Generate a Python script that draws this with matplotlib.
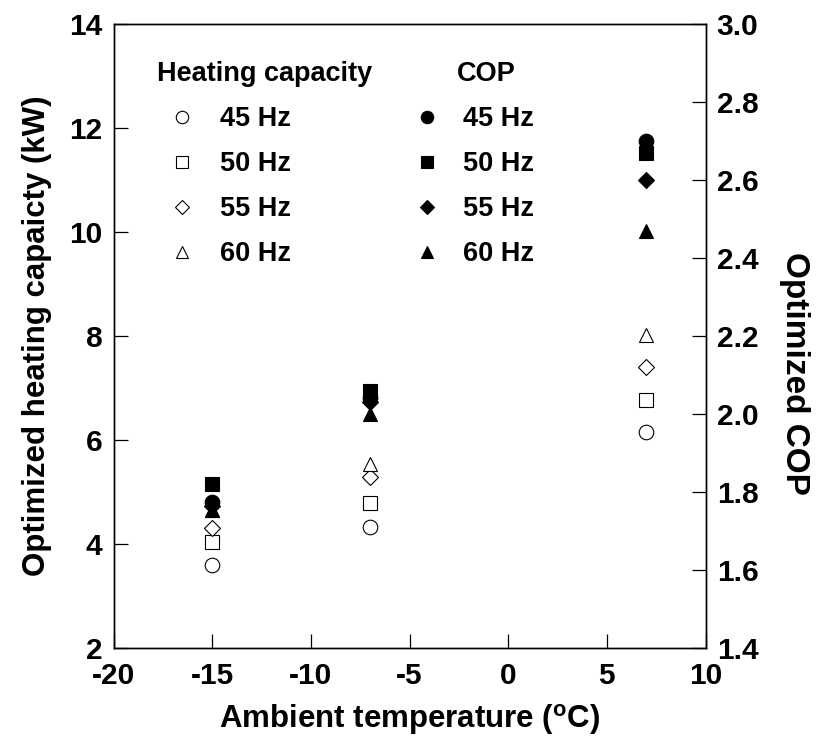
import numpy as np
import matplotlib.pyplot as plt
from matplotlib.lines import Line2D

plt.rcParams['font.family'] = ['Liberation Sans', 'DejaVu Sans']
plt.rcParams['font.weight'] = 'bold'
plt.rcParams['axes.unicode_minus'] = False
plt.rcParams['mathtext.fontset'] = 'custom'
plt.rcParams['mathtext.rm'] = 'Liberation Sans:bold'
plt.rcParams['mathtext.bf'] = 'Liberation Sans:bold'

# ambient temperatures (C)
temps = [-15, -7, 7]

# optimized heating capacity (kW), open markers
cap_45 = [3.60, 4.33, 6.15]
cap_50 = [4.04, 4.79, 6.77]
cap_55 = [4.31, 5.29, 7.40]
cap_60 = [4.65, 5.54, 8.02]

# optimized COP, filled markers
cop_45 = [1.775, 2.04, 2.70]
cop_50 = [1.82, 2.06, 2.67]
cop_55 = [1.765, 2.03, 2.60]
cop_60 = [1.755, 2.00, 2.47]

freqs = ['45 Hz', '50 Hz', '55 Hz', '60 Hz']
marks = ['o', 's', 'D', '^']
caps = [cap_45, cap_50, cap_55, cap_60]
cops = [cop_45, cop_50, cop_55, cop_60]
msz = [10.5, 9.5, 8.5, 10.5]

fig = plt.figure(figsize=(8.25, 7.39), dpi=100)
ax = fig.add_axes([0.1376, 0.1231, 0.7176, 0.8444])
ax2 = ax.twinx()

for m, s, y in zip(marks, msz, caps):
    ax.plot(temps, y, ls='none', marker=m, ms=s, mfc='white', mec='black', mew=0.8)
for m, s, y in zip(marks, msz, cops):
    ax2.plot(temps, y, ls='none', marker=m, ms=s, mfc='black', mec='black', mew=0.8)

ax.set_xlim(-20, 10)
ax.set_ylim(2, 14)
ax.set_xticks(np.arange(-20, 11, 5))
ax.set_yticks(np.arange(2, 15, 2))
ax2.set_ylim(1.4, 3.0)
ax2.set_yticks(np.arange(1.4, 3.01, 0.2))
ax2.set_yticklabels(['%.1f' % v for v in np.arange(1.4, 3.01, 0.2)])

for a in (ax, ax2):
    a.tick_params(direction='in', length=10, width=0.9, labelsize=21.5, pad=8)
    for sp in a.spines.values():
        sp.set_linewidth(1.0)
ax.tick_params(axis='x', pad=10)

ax.set_xlabel(r'Ambient temperature ($^{\mathbf{o}}$C)', fontsize=22.5, fontweight='bold', labelpad=9)
ax.set_ylabel('Optimized heating capaicty (kW)', fontsize=22.5, fontweight='bold', labelpad=12)
ax2.set_ylabel('Optimized COP', fontsize=24, fontweight='bold', rotation=270, va='center')
ax2.yaxis.set_label_coords(1.15, 0.44)

h_open = [Line2D([], [], ls='none', marker=m, ms=s * 0.85, mfc='white', mec='black', mew=0.8)
          for m, s in zip(marks, msz)]
h_fill = [Line2D([], [], ls='none', marker=m, ms=s * 0.85, mfc='black', mec='black', mew=0.8)
          for m, s in zip(marks, msz)]

leg1 = ax2.legend(h_open, freqs, title='Heating capacity', loc='upper left',
                  bbox_to_anchor=(0.033, 0.979), frameon=False, fontsize=19.5,
                  title_fontproperties={'weight': 'bold', 'size': 19.5},
                  alignment='left', labelspacing=0.7, handletextpad=0.45,
                  handlelength=1.85)
ax2.add_artist(leg1)
leg2 = ax2.legend(h_fill, freqs, title=' ', loc='upper left',
                  bbox_to_anchor=(0.466, 0.979), frameon=False, fontsize=19.5,
                  title_fontproperties={'weight': 'bold', 'size': 19.5},
                  alignment='left', labelspacing=0.7, handletextpad=0.8,
                  handlelength=1.0)
ax2.text(0.58, 0.92, 'COP', transform=ax2.transAxes, fontsize=19.5,
         fontweight='bold', ha='left', va='center')

fig.savefig('out.png', dpi=100)
